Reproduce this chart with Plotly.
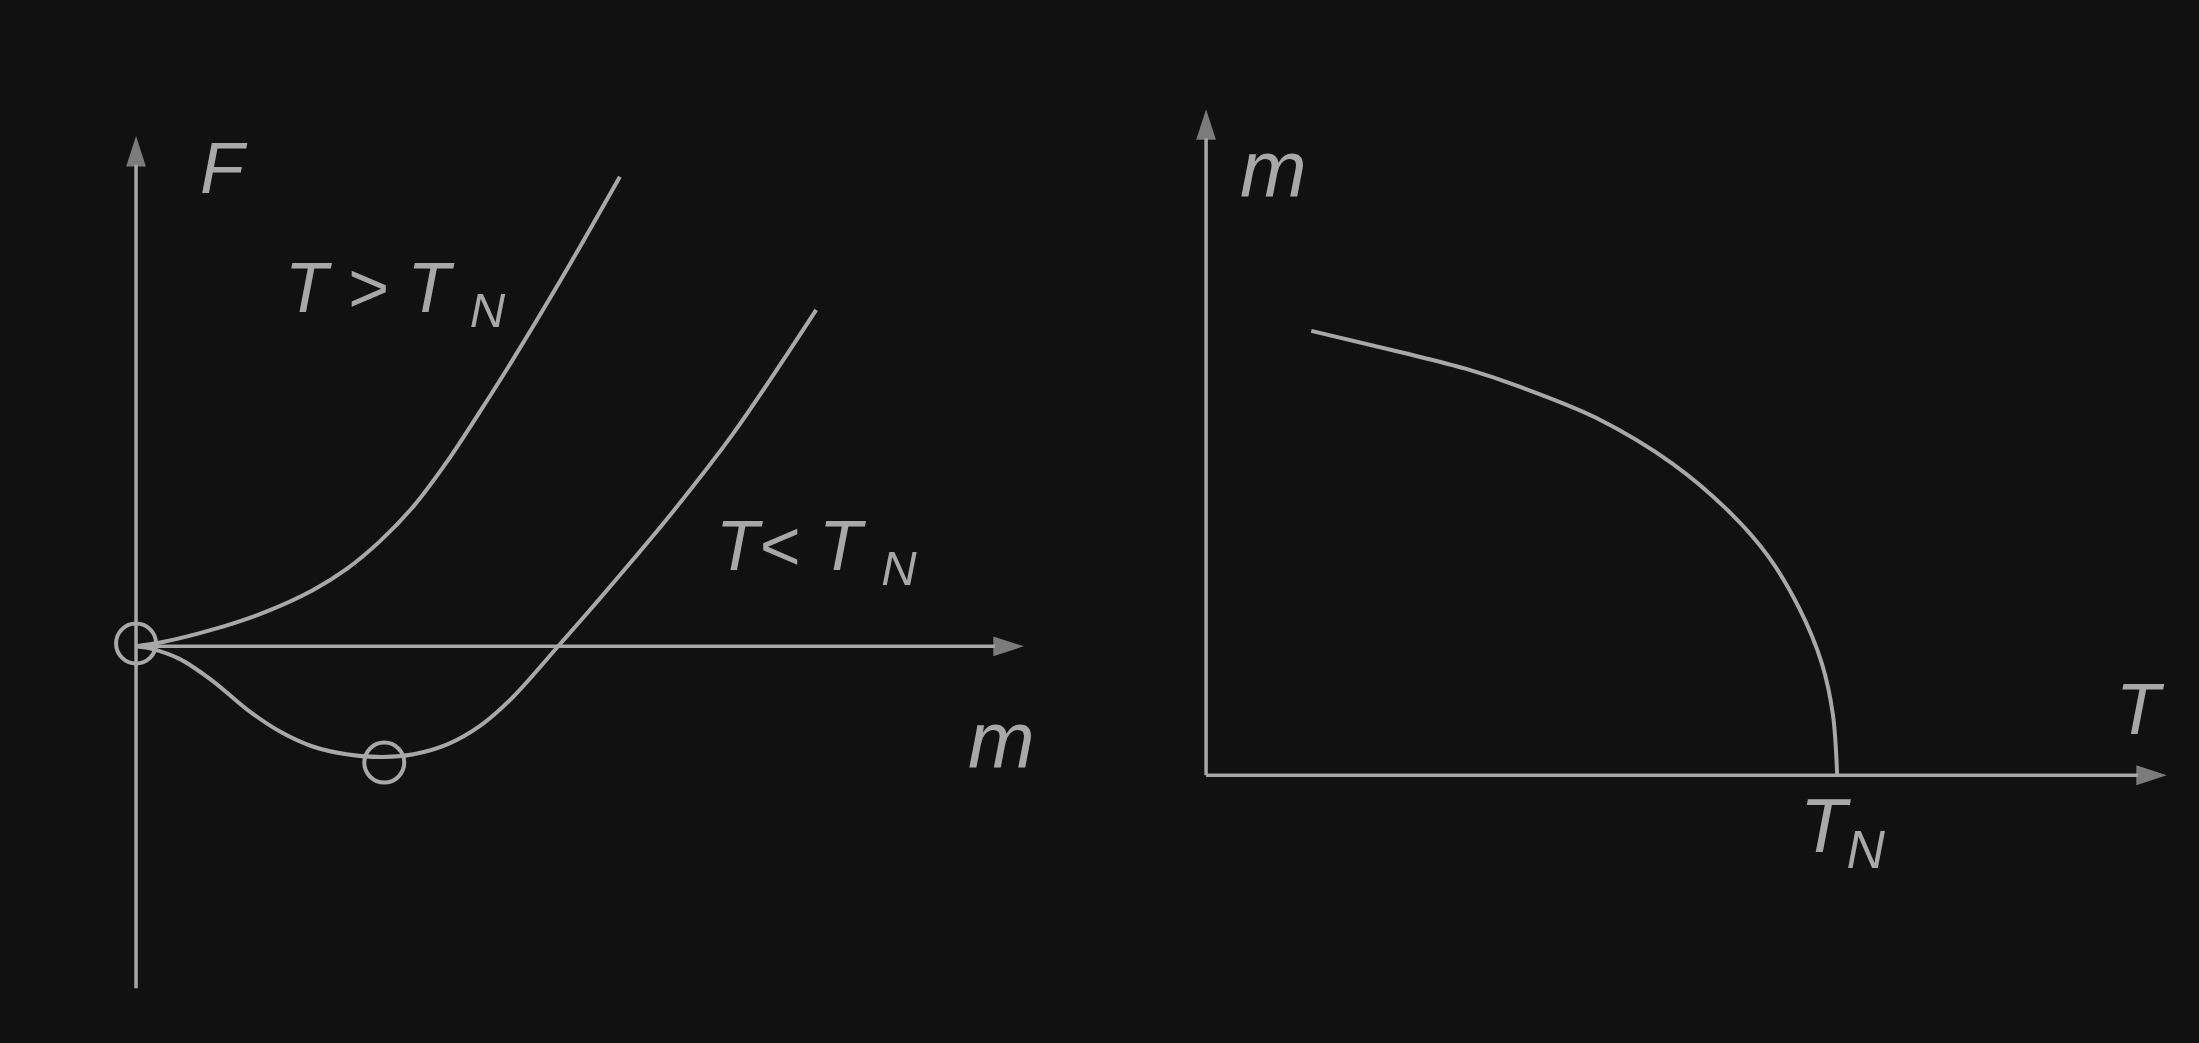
import plotly.graph_objects as go

# ---- data (arbitrary units) ----
# Left panel: free energy F(m)
m_above = [0.0, 0.19, 0.55, 0.91, 1.26, 1.50, 1.74, 1.98, 2.22, 2.45, 2.69, 3.05, 3.45]
F_above = [0.0, 0.03, 0.12, 0.24, 0.40, 0.55, 0.75, 1.00, 1.32, 1.67, 2.05, 2.65, 3.35]

m_below = [0.0, 0.12, 0.31, 0.55, 0.79, 1.03, 1.26, 1.50, 1.76, 1.98, 2.22, 2.45, 2.69,
           3.01, 3.29, 3.52, 3.78, 4.26, 4.85]
F_below = [0.0, -0.02, -0.09, -0.25, -0.45, -0.61, -0.715, -0.77, -0.79, -0.77, -0.70, -0.57, -0.36,
           0.00, 0.32, 0.59, 0.90, 1.52, 2.40]

marked_m = [0.0, 1.77]
marked_F = [0.02, -0.83]

# Right panel: order parameter m(T)
T_vals = [0.75, 1.42, 1.85, 2.24, 2.78, 3.33, 3.74, 4.01, 4.23, 4.39, 4.47, 4.50]
m_vals = [3.17, 3.01, 2.90, 2.77, 2.55, 2.22, 1.87, 1.56, 1.19, 0.80, 0.43, 0.00]

# axis extents
left_m_axis = [0.0, 6.33]
left_F_axis = [-2.44, 3.64]
right_T_axis = [0.0, 6.85]
right_m_axis = [0.0, 4.75]

INK = "#a8a8a8"
BG = "#111111"
FONT = "Liberation Sans"

fig = go.Figure()

def curve(x, y, xa, ya):
    fig.add_trace(go.Scatter(x=x, y=y, mode="lines",
                             line=dict(color=INK, width=4, shape="spline", smoothing=0.9),
                             xaxis=xa, yaxis=ya, showlegend=False, hoverinfo="skip"))

curve(m_above, F_above, "x", "y")
curve(m_below, F_below, "x", "y")
curve(T_vals, m_vals, "x2", "y2")

fig.add_trace(go.Scatter(x=marked_m, y=marked_F, mode="markers",
                         marker=dict(symbol="circle-open", size=40, color=INK, line=dict(color=INK, width=4)),
                         xaxis="x", yaxis="y", showlegend=False, hoverinfo="skip"))

# axes drawn as lines with arrow markers at their far ends
def axis_arrow(xs, ys, xa, ya):
    fig.add_trace(go.Scatter(x=xs, y=ys, mode="lines+markers",
                             line=dict(color=INK, width=3.5),
                             marker=dict(symbol="arrow", angleref="previous", size=[0, 32],
                                         color=INK, line=dict(width=0)),
                             xaxis=xa, yaxis=ya, showlegend=False, hoverinfo="skip"))

axis_arrow(left_m_axis, [0, 0], "x", "y")
axis_arrow([0, 0], left_F_axis, "x", "y")
axis_arrow(right_T_axis, [0, 0], "x2", "y2")
axis_arrow([0, 0], right_m_axis, "x2", "y2")

def label(xref, yref, x, y, text, size=72, xanchor="center", yanchor="middle"):
    fig.add_annotation(x=x, y=y, xref=xref, yref=yref, text=text, showarrow=False,
                       xanchor=xanchor, yanchor=yanchor,
                       font=dict(family=FONT, size=size, color=INK, style="italic"))

label("x", "y", 0.63, 3.41, "F")
label("x", "y", 1.05, 2.52, "T &gt; T <sub>N</sub>", size=70, xanchor="left")
label("x", "y", 4.12, 0.68, "T&lt; T <sub>N</sub>", size=70, xanchor="left")
label("x", "y", 6.17, -0.67, "m", size=80)
label("x2", "y2", 0.48, 4.32, "m", size=80)
label("x2", "y2", 6.66, 0.47, "T")
label("x2", "y2", 4.22, -0.40, "T<sub>N</sub>", size=76, xanchor="left")

ax_common = dict(visible=False, showgrid=False, zeroline=False, fixedrange=True)
fig.update_layout(
    width=2199, height=1043,
    margin=dict(l=0, r=0, t=0, b=0),
    paper_bgcolor=BG, plot_bgcolor=BG,
    xaxis=dict(domain=[0, 0.5], range=[-0.97, 6.87], **ax_common),
    yaxis=dict(domain=[0, 1], range=[-2.83, 4.61], **ax_common),
    xaxis2=dict(domain=[0.5, 1], range=[-0.76, 7.08], **ax_common),
    yaxis2=dict(domain=[0, 1], range=[-1.91, 5.53], anchor="x2", **ax_common),
    showlegend=False,
)
fig.update_traces(cliponaxis=False)

fig.write_html(
    "out.html",
    config={"displayModeBar": False, "staticPlot": True},
    post_script="document.body.style.margin='0';document.body.style.background='#111111';"
                "document.body.style.overflow='hidden';",
)
